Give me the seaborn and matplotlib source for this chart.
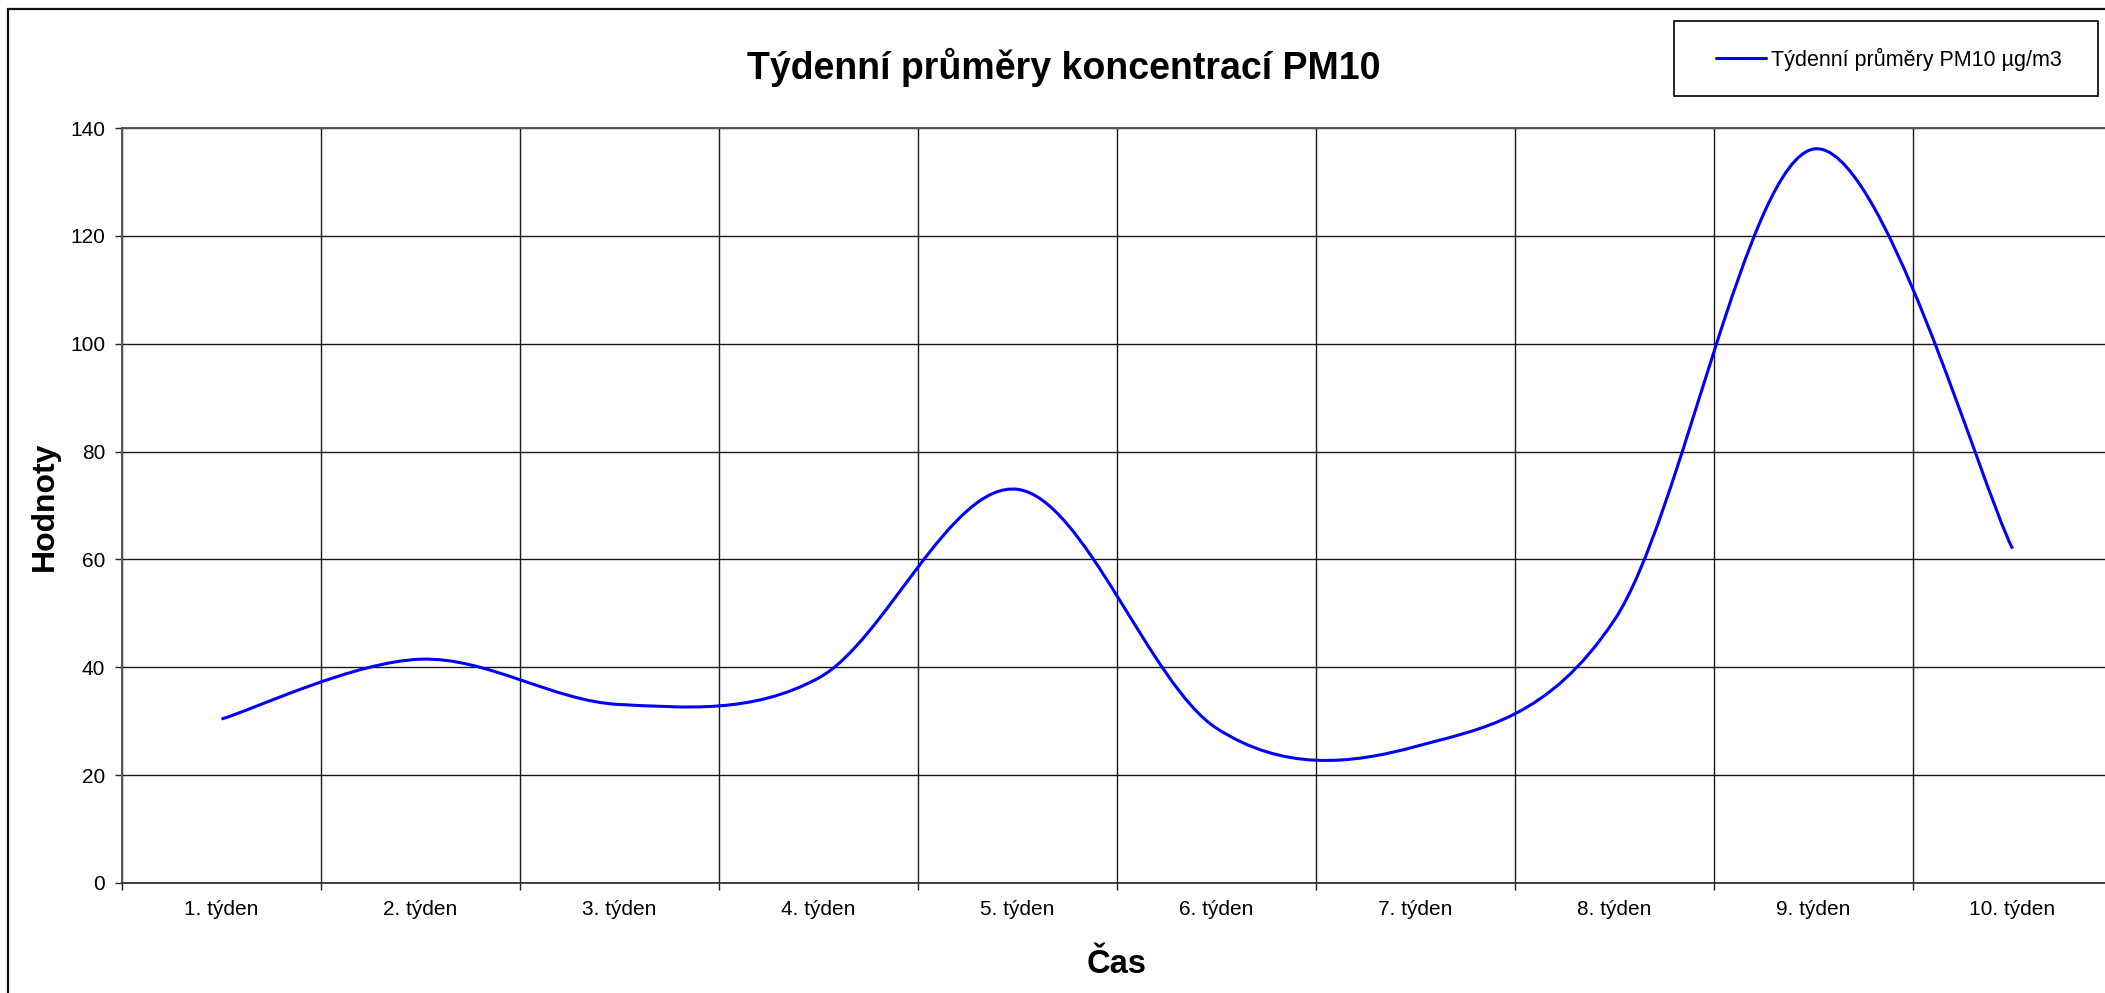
import numpy as np
import pandas as pd
import matplotlib
matplotlib.use('Agg')
import matplotlib.pyplot as plt
from matplotlib.path import Path
from matplotlib.patches import PathPatch, Rectangle
from matplotlib.lines import Line2D
from matplotlib.ticker import FixedLocator
import seaborn as sns

# ===========================================
# DATA
# ===========================================
tydny = ['1. týden', '2. týden', '3. týden', '4. týden', '5. týden',
         '6. týden', '7. týden', '8. týden', '9. týden', '10. týden']
pm10 = [30.4, 41.5, 33.1, 38.0, 73.0, 28.7, 25.3, 48.8, 136.1, 62.0]
y_ticks = [0, 20, 40, 60, 80, 100, 120, 140]

titulek = 'Týdenní průměry koncentrací PM10'
legenda = 'Týdenní průměry PM10 µg/m3'

# ===========================================
# STYLE
# ===========================================
sns.set_theme(style='white')
plt.rcParams['font.family'] = ['Liberation Sans', 'DejaVu Sans']

W, H = 2105, 993
MODRA = '#0000FF'


def vyhlazena_cesta(x, y):
    """Excel-like smoothed line: cubic Bezier segments through the points"""
    pts = np.column_stack([x, y]).astype(float)
    n = len(pts)
    verts = [pts[0]]
    codes = [Path.MOVETO]
    for i in range(n - 1):
        p0 = pts[max(i - 1, 0)]
        p1 = pts[i]
        p2 = pts[i + 1]
        p3 = pts[min(i + 2, n - 1)]
        verts += [p1 + (p2 - p0) / 6, p2 - (p3 - p1) / 6, p2]
        codes += [Path.CURVE4] * 3
    return Path(verts, codes)


df = pd.DataFrame({'tyden': tydny, 'pm10': pm10})
df['pozice'] = np.arange(1, len(df) + 1)

fig = plt.figure(figsize=(W / 100, H / 100), dpi=100)
ax = fig.add_axes([122 / W, (H - 883) / H, 1990 / W, 755 / H])

ax.set_xlim(0.5, len(df) + 0.5)
ax.set_ylim(0, 140)

# smoothed series
ax.add_patch(PathPatch(vyhlazena_cesta(df['pozice'], df['pm10']),
                       facecolor='none', edgecolor=MODRA, lw=2.2,
                       capstyle='butt', zorder=5))

# x: boundaries carry ticks + grid, centres carry labels
ax.xaxis.set_major_locator(FixedLocator(np.arange(0.5, len(df) + 1, 1)))
ax.xaxis.set_minor_locator(FixedLocator(df['pozice']))
ax.set_xticklabels([], minor=False)
ax.set_xticklabels(df['tyden'], minor=True)
ax.tick_params(axis='x', which='major', direction='out', length=5, width=1,
               color='#222222', bottom=True)
ax.tick_params(axis='x', which='minor', length=0, pad=12, labelsize=15,
               labelcolor='black')

ax.set_yticks(y_ticks)
ax.tick_params(axis='y', which='major', direction='out', length=5, width=1,
               color='#222222', left=True, pad=7, labelsize=15,
               labelcolor='black')

ax.grid(True, axis='both', which='major', color='#1a1a1a', lw=1.0)
ax.set_axisbelow(True)

for side in ['left', 'top', 'right']:
    ax.spines[side].set_color('#555555')
    ax.spines[side].set_linewidth(1.4)
ax.spines['bottom'].set_color('#222222')
ax.spines['bottom'].set_linewidth(1.2)

# texts
fig.text(1064 / W, 1 - 79 / H, titulek, ha='center', va='baseline',
         fontsize=27, fontweight='bold', color='black')
fig.text(1117 / W, 1 - 973 / H, 'Čas', ha='center', va='baseline',
         fontsize=23.5, fontweight='bold', color='black')
fig.text(45 / W, 1 - 506 / H, 'Hodnoty', ha='center', va='center',
         rotation=90, fontsize=23, fontweight='bold', color='black')

# legend box (Excel style, drawn in figure pixels)
fig.add_artist(Rectangle((1674 / W, 1 - 96 / H), 424 / W, 75 / H,
                         transform=fig.transFigure, fill=True,
                         facecolor='white', edgecolor='black', lw=1.2))
fig.add_artist(Line2D([1716 / W, 1766 / W], [1 - 58 / H, 1 - 58 / H],
                      transform=fig.transFigure, color=MODRA, lw=2.2))
fig.text(1771 / W, 1 - 66 / H, legenda, ha='left', va='baseline',
         fontsize=15.5, color='black')

# outer chart-area border
fig.add_artist(Rectangle((8 / W, -0.2), 1.2, 0.2 + (1 - 9 / H),
                         transform=fig.transFigure, fill=False,
                         edgecolor='#111111', lw=1.6))

fig.savefig('out.png', dpi=100, facecolor='white')
